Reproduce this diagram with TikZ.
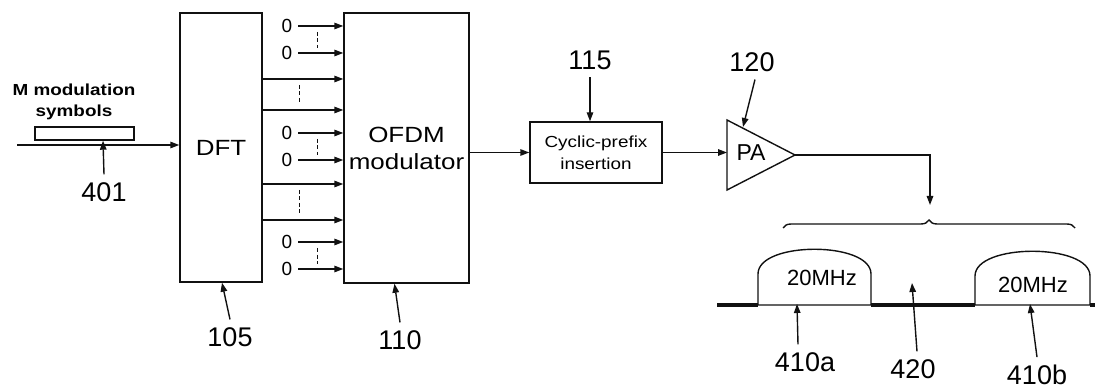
\documentclass[tikz,border=0pt]{standalone}
\usepackage{fontspec}
\setmainfont{Liberation Sans}
\newfontfamily\widesf{Liberation Sans}[FakeStretch=1.18]
\usepackage{xcolor}
\usepackage{tikz}
\usetikzlibrary{arrows.meta,decorations.pathreplacing}
\definecolor{inkBlack}{HTML}{111111}
\tikzset{
  blockbox/.style={rectangle, draw=inkBlack, line width=1.4pt, align=center, inner sep=0pt, font=\widesf\fontsize{22}{27}\selectfont},
  bufbox/.style={rectangle, draw=inkBlack, line width=1.4pt, inner sep=0pt},
  sigarrow/.style={-{Triangle[length=9pt,width=6.5pt]}, line width=1.4pt, draw=inkBlack},
  sigline/.style={line width=1.4pt, draw=inkBlack},
  gapdash/.style={line width=1pt, draw=inkBlack, dash pattern=on 4pt off 2.5pt},
  bandline/.style={line width=4pt, draw=inkBlack},
  zerolabel/.style={font=\fontsize{19}{19}\selectfont, inner sep=2pt},
  refnum/.style={font=\fontsize{27}{27}\selectfont, inner sep=1pt, outer sep=7pt},
  bandlabel/.style={font=\fontsize{22}{22}\selectfont, inner sep=0pt},
  palabel/.style={font=\fontsize{23}{23}\selectfont, inner sep=0pt},
}

\begin{document}
\begin{tikzpicture}[x=1pt,y=-1pt]
  \useasboundingbox (0,0) rectangle (1095,390);

  % ---------- input symbols ----------
  \node[font=\widesf\bfseries\fontsize{16}{21}\selectfont, align=center] (symlbl) at (74,102) {M modulation\\symbols};
  \node[bufbox, minimum width=99pt, minimum height=13pt] (symbuf) at (84.5,133.5) {};
  \coordinate (src) at (17,145);
  \node[refnum] (n401) at (104,192) {401};

  % ---------- processing blocks ----------
  \node[blockbox, minimum width=82pt, minimum height=269pt]  (dft)  at (221,147.5) {DFT};
  \node[blockbox, minimum width=125pt, minimum height=270pt] (ofdm) at (406.5,148) {OFDM\\modulator};
  \node[blockbox, minimum width=132pt, minimum height=61pt, font=\widesf\fontsize{16}{22}\selectfont] (cp) at (596,152.5) {Cyclic-prefix\\insertion};

  % ---------- power amplifier ----------
  \coordinate (pain)  at (727,153);
  \coordinate (patip) at (795,155);
  \coordinate (patop) at (743,127);
  \draw[sigline] (727,120) -- (patip) -- (727,190) -- cycle;
  \node[palabel] (pa) at (751,153) {PA};

  % ---------- zero inputs ----------
  \node[zerolabel] (z1) at (287,26)  {0};
  \node[zerolabel] (z2) at (287,53)  {0};
  \node[zerolabel] (z3) at (287,133) {0};
  \node[zerolabel] (z4) at (287,160) {0};
  \node[zerolabel] (z5) at (287,242) {0};
  \node[zerolabel] (z6) at (287,269) {0};

  \draw[sigarrow] ([xshift=4pt]z1.east) -- (z1.east -| ofdm.west);
  \draw[sigarrow] ([xshift=4pt]z2.east) -- (z2.east -| ofdm.west);
  \draw[sigarrow] ([xshift=4pt]z3.east) -- (z3.east -| ofdm.west);
  \draw[sigarrow] ([xshift=4pt]z4.east) -- (z4.east -| ofdm.west);
  \draw[sigarrow] ([xshift=4pt]z5.east) -- (z5.east -| ofdm.west);
  \draw[sigarrow] ([xshift=4pt]z6.east) -- (z6.east -| ofdm.west);

  % ---------- dft outputs ----------
  \draw[sigarrow] (dft.east |- 0,79)  -- (ofdm.west |- 0,79);
  \draw[sigarrow] (dft.east |- 0,110) -- (ofdm.west |- 0,110);
  \draw[sigarrow] (dft.east |- 0,184) -- (ofdm.west |- 0,184);
  \draw[sigarrow] (dft.east |- 0,220) -- (ofdm.west |- 0,220);

  \draw[gapdash] (317,32)  -- (317,48);
  \draw[gapdash] (299,85)  -- (299,104);
  \draw[gapdash] (317,139) -- (317,155);
  \draw[gapdash] (299,190) -- (299,214);
  \draw[gapdash] (317,248) -- (317,264);

  % ---------- signal chain ----------
  \draw[sigarrow] (src) -- (src -| dft.west);
  \draw[sigarrow] (n401.north) -- ([xshift=18.5pt]symbuf.south);
  \draw[sigarrow] (cp.west -| ofdm.east) -- (cp.west);
  \draw[sigarrow] (cp.east) -- (cp.east -| pain);
  \coordinate (bandin) at (930,205);
  \draw[sigarrow] (patip) -| (bandin);

  % ---------- reference numerals ----------
  \node[refnum] (n105) at (230,337) {105};
  \node[refnum] (n110) at (400,340) {110};
  \node[refnum] (n115) at (590,60)  {115};
  \node[refnum] (n120) at (752,62)  {120};
  \draw[sigarrow] (n105.north) -- ([xshift=1pt]dft.south);
  \draw[sigarrow] (n110.north) -- ([xshift=-12pt]ofdm.south);
  \draw[sigarrow] (n115.south) -- (n115.south |- cp.north);
  \draw[sigarrow] ([xshift=3pt]n120.south) -- (patop);

  % ---------- spectrum ----------
  \draw[sigline, decorate, decoration={brace, amplitude=8pt}] (783,228) -- (1075,228);

  \draw[bandline] (717,305) -- (758,305);
  \draw[bandline] (871,305) -- (975,305);
  \draw[bandline] (1090,305) -- (1095,305);
  \draw[sigline] (758,305) -- (758,274) .. controls (758,241) and (871,241) .. (871,274) -- (871,305) -- cycle;
  \draw[sigline] (975,305) -- (975,276) .. controls (975,243) and (1090,243) .. (1090,276) -- (1090,305) -- cycle;

  \node[bandlabel] (bw1) at (822,278)  {20MHz};
  \node[bandlabel] (bw2) at (1033,285) {20MHz};

  \coordinate (sub1) at (797,304);
  \coordinate (gap)  at (912,283);
  \coordinate (sub2) at (1030,304);
  \node[refnum] (n410a) at (805,362)  {410a};
  \node[refnum] (n420)  at (913,369)  {420};
  \node[refnum] (n410b) at (1037,375) {410b};
  \draw[sigarrow] ([xshift=-7pt]n410a.north) -- (sub1);
  \draw[sigarrow] ([xshift=4pt]n420.north) -- (gap);
  \draw[sigarrow] (n410b.north) -- (sub2);

\end{tikzpicture}
\end{document}
